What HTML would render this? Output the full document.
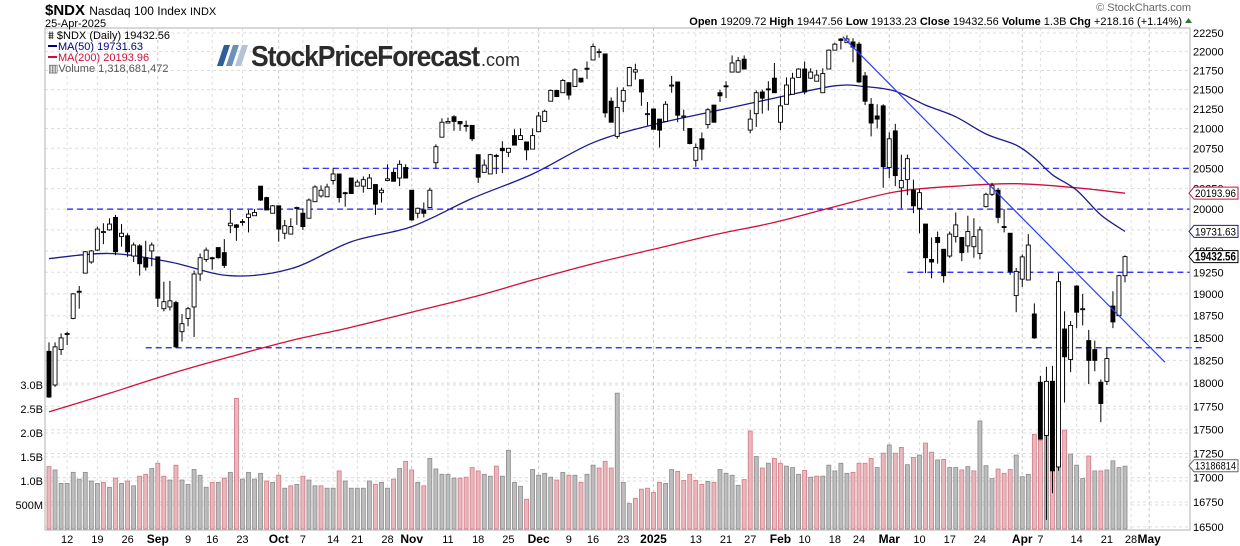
<!DOCTYPE html>
<html><head><meta charset="utf-8"><style>
html,body{margin:0;padding:0;background:#fff;}
svg{display:block;font-family:"Liberation Sans",sans-serif;}
</style></head><body>
<svg id="chart" width="1240" height="546" viewBox="0 0 1240 546" xmlns="http://www.w3.org/2000/svg">
<rect x="0" y="0" width="1240" height="546" fill="#fff"/>
<g id="grid"></g>
<g id="volg"></g>
<g id="hlines"></g>
<g id="mag"></g>
<g id="candles"></g>
<g id="trend"></g>
<rect x="45" y="28" width="1145" height="502" fill="none" stroke="#b0b0b0" stroke-width="1"/>
<g id="axes"></g>

<g>
<text x="45" y="15" font-size="15" font-weight="bold" fill="#000">$NDX <tspan font-size="12" font-weight="normal">Nasdaq 100 Index </tspan><tspan font-size="11" font-weight="normal">INDX</tspan></text>
<text x="45" y="27" font-size="11" fill="#000">25-Apr-2025</text>
<text x="1191" y="11" font-size="11" fill="#666" text-anchor="end">© StockCharts.com</text>
<text x="1182" y="25" font-size="11" fill="#000" text-anchor="end"><tspan font-weight="bold">Open</tspan> 19209.72  <tspan font-weight="bold">High</tspan> 19447.56  <tspan font-weight="bold">Low</tspan> 19133.23  <tspan font-weight="bold">Close</tspan> 19432.56  <tspan font-weight="bold">Volume</tspan> 1.3B  <tspan font-weight="bold">Chg</tspan> +218.16 (+1.14%)</text>
<polygon points="1185,23 1192,23 1188.5,18" fill="#2a7a2a"/>
</g>

<g font-size="11">
<text x="48" y="39" fill="#000">⩩ $NDX (Daily) 19432.56</text>
<line x1="48" y1="46" x2="57" y2="46" stroke="#000080" stroke-width="2"/>
<text x="58" y="50" fill="#000080">MA(50) 19731.63</text>
<line x1="48" y1="57" x2="57" y2="57" stroke="#d0103a" stroke-width="2"/>
<text x="58" y="61" fill="#d0103a">MA(200) 20193.96</text>
<text x="48" y="72" fill="#555">▥Volume 1,318,681,472</text>
</g>

<g>
<polygon points="224,45 230,45 223,66 217,66" fill="#2f5d9b"/>
<polygon points="233,45 239,45 232,66 226,66" fill="#6d8fb8"/>
<polygon points="242,45 248,45 241,66 235,66" fill="#b3c3d6"/>
<text x="251" y="66" font-size="29" font-weight="bold" fill="#2b2b2b" letter-spacing="-1.2" textLength="228" lengthAdjust="spacingAndGlyphs">StockPriceForecast</text>
<text x="481" y="66" font-size="18" fill="#2b2b2b">.com</text>
</g>
</svg>
<script>
var opens=[18350,17980,18370,18540,18720,19030,19240,19370,19510,19720,
19750,19900,19670,19680,19440,19560,19420,19500,19430,18830,
18850,18900,18570,18720,18850,19230,19400,19420,19540,19480,
19800,19810,19840,19900,19920,20280,20140,19950,20040,19710,
19700,20010,19950,19890,20090,20160,20150,20350,20430,20200,
20380,20280,20280,20250,20300,20200,20350,20450,20380,20510,
20230,19950,19990,20020,20570,20890,21070,21150,21090,21040,
21040,20670,20450,20430,20660,20750,20700,20910,20860,20830,
20740,20960,21090,21350,21490,21460,21590,21540,21650,21780,
21890,21990,21970,21350,20900,21350,21550,21730,21630,21190,
21250,21120,21090,21550,21600,21150,21000,20600,20870,21050,
21300,21460,21550,21730,21730,21900,20980,21190,21470,21510,
21650,21080,21310,21440,21660,21770,21650,21610,21460,21770,
22020,22170,22120,22130,22100,21680,21310,21160,21290,20510,
20970,20260,20360,20230,20010,19820,19400,19660,19520,19440,
19670,19660,19560,19550,19470,20030,20180,20230,19790,19710,
18980,19170,19160,18770,18010,17440,18020,17110,18600,18260,
19090,18830,18470,18370,18010,18020,18860,18750,19209.72];
var highs=[18450,18450,18550,18570,19010,19090,19500,19510,19790,19830,
19890,19930,19820,19710,19600,19580,19620,19600,19430,19140,
19150,18920,18770,18850,19270,19470,19540,19430,19540,19640,
19990,19820,19880,19990,20000,20280,20150,20050,20040,19870,
19890,20030,20010,20130,20290,20290,20310,20500,20430,20210,
20380,20360,20400,20430,20300,20260,20550,20490,20600,20550,
20230,20020,20080,20260,20800,21130,21140,21170,21090,21100,
21040,20670,20610,20680,20680,20840,20750,20990,21000,20830,
21000,21210,21240,21500,21490,21640,21600,21780,21650,21870,
22110,22040,21970,21400,21530,21530,21800,21840,21630,21340,
21250,21120,21350,21680,21600,21240,21000,20810,20950,21260,
21300,21500,21610,21950,21930,21950,21240,21490,21500,21610,
21850,21410,21660,21720,21780,21870,21780,21760,21780,22030,
22120,22180,22220,22180,22130,21730,21390,21310,21310,20950,
21060,20670,20670,20360,20240,19820,19660,19730,19520,19730,
19960,19660,19920,19890,19790,20200,20320,20260,20000,19710,
19300,19460,19700,18890,18080,18180,18190,19240,18800,18690,
19100,19000,18590,18470,18040,18390,19030,19220,19447.56];
var lows=[17840,17960,18310,18420,18710,18830,19240,19350,19500,19580,
19740,19450,19550,19430,19370,19210,19270,19320,18850,18800,
18810,18390,18460,18630,18510,19150,19370,19280,19410,19300,
19710,19620,19800,19720,19920,20100,19990,19950,19610,19640,
19700,19810,19750,19890,20090,20140,20150,20300,20080,20030,
20190,20280,20200,20250,19930,20080,20340,20340,20280,20380,
19860,19890,19900,20020,20500,20890,21070,20970,20970,20960,
20840,20320,20450,20430,20430,20440,20640,20790,20860,20600,
20740,20960,21090,21350,21410,21460,21370,21540,21590,21640,
21890,21920,21140,21080,20870,21210,21550,21630,21290,21040,
20990,20760,21090,21460,21080,20970,20800,20520,20600,21000,
21080,21340,21390,21730,21720,21770,20940,21020,21190,21230,
21460,20980,21310,21440,21660,21440,21640,21610,21460,21770,
22020,22030,22120,21860,21590,21300,20900,21000,20260,20380,
20280,20010,20170,19950,19710,19240,19180,19350,19130,19420,
19600,19380,19480,19420,19400,20020,20160,19830,19720,19220,
18790,19080,19160,18490,17400,16570,16840,17070,17790,18120,
18610,18640,17990,18130,17580,17980,18610,18750,19133.23];
var closes=[17850,18400,18500,18550,19000,19020,19490,19500,19760,19730,
19820,19490,19710,19490,19570,19350,19310,19570,18950,18910,
18920,18400,18660,18830,19230,19420,19510,19410,19420,19330,
19830,19780,19850,19940,19960,20110,19990,20040,19760,19800,
19790,20020,19790,20110,20270,20230,20270,20430,20140,20190,
20190,20330,20360,20380,20060,20230,20370,20340,20550,20380,
19870,20010,19950,20230,20770,21080,21090,21090,21060,21030,
20870,20390,20540,20670,20660,20720,20750,20790,20910,20730,
20910,21160,21220,21490,21410,21620,21430,21760,21600,21770,
22070,22000,21200,21080,21270,21490,21790,21760,21470,21190,
20990,20980,21310,21560,21170,21160,20810,20760,20740,21240,
21080,21420,21540,21850,21880,21770,21120,21460,21390,21500,
21460,21290,21560,21650,21770,21470,21730,21690,21710,22020,
22100,22150,22170,22060,21600,21350,21070,21120,20520,20870,
20410,20350,20620,20040,20200,19420,19370,19600,19210,19700,
19810,19480,19730,19670,19750,20180,20290,19900,19780,19260,
19260,19430,19570,18500,17400,18020,17070,19140,18290,18640,
18790,18830,18250,18250,17780,18270,18680,19210,19432.56];
var volumesB=[1.30,1.23,0.95,0.95,1.18,1.04,1.18,1.00,0.95,0.97,
0.87,1.06,0.95,1.00,0.90,1.10,1.14,1.26,1.37,1.10,
1.02,1.33,1.02,0.93,1.24,1.12,0.87,0.97,0.97,1.06,
1.18,2.72,1.04,1.18,1.04,1.16,1.00,0.97,1.12,0.85,
0.90,0.93,1.10,1.02,0.90,0.90,0.85,0.85,1.21,1.00,
0.85,0.85,0.85,1.00,0.93,0.97,0.85,1.04,1.26,1.41,
1.23,0.97,0.90,1.47,1.25,1.14,1.14,1.06,1.06,
1.08,1.28,1.21,1.14,1.10,1.31,1.10,1.64,0.97,0.89,
0.62,1.24,1.12,1.16,1.08,1.02,1.18,1.12,1.12,0.97,
1.14,1.33,1.27,1.41,1.27,2.83,0.97,0.53,0.64,0.83,
0.85,0.76,0.97,0.95,1.24,1.20,1.01,1.14,1.01,0.93,
0.99,0.97,1.24,1.16,1.12,0.91,1.03,2.04,1.51,1.27,
1.37,1.47,1.37,1.31,1.28,1.14,1.22,1.08,1.10,1.10,
1.33,1.21,1.37,1.16,1.18,1.37,1.37,1.47,1.28,
1.58,1.75,1.58,1.70,1.34,1.49,1.54,1.79,1.60,1.44,
1.45,1.28,1.28,1.23,1.30,1.21,2.25,1.32,1.05,1.25,
1.16,1.24,1.54,1.09,1.14,1.97,1.85,2.63,2.30,2.98,
2.06,1.56,1.33,1.05,1.52,1.21,1.21,1.23,1.42,1.28,1.31];
var ma50Idx=[0,10,20,30,40,50,60,70,80,90,100,110,120,130,135,140,145,150,155,160,163,166,170,174,178];
var ma50=[19410,19470,19370,19210,19290,19610,19790,20130,20430,20820,21050,21220,21390,21550,21540,21480,21300,21150,20930,20790,20630,20420,20230,19930,19731.63];
var ma200Idx=[0,10,20,30,40,50,60,70,80,90,100,110,120,130,140,150,160,170,178];
var ma200=[17690,17890,18100,18290,18470,18620,18790,18960,19160,19350,19520,19690,19840,20030,20210,20280,20310,20260,20193.96];
var priceTicks=[22250,22000,21750,21500,21250,21000,20750,20500,20250,20000,19750,19500,19250,19000,18750,18500,18250,18000,17750,17500,17250,17000,16750,16500];
var volTicks=[0.5,1.0,1.5,2.0,2.5,3.0];
var volTickLabels=["500M","1.0B","1.5B","2.0B","2.5B","3.0B"];
var dateIdx=[3,8,13,18,23,27,32,38,42,47,51,56,60,66,71,76,81,86,90,95,100,107,112,116,121,125,130,134,139,144,149,154,161,164,170,175,179,182];
var dateLabels=["12","19","26","Sep","9","16","23","Oct","7","14","21","28","Nov","11","18","25","Dec","9","16","23","2025","13","21","27","Feb","10","18","24","Mar","10","17","24","Apr","7","14","21","28","May"];
var hLevels=[20500,20000,19250,18390];
var hStartIdx=[42,3,142,16];
var trendIdx=[131.3,184.6];
var trendPrice=[22200,18230];

var NS="http://www.w3.org/2000/svg";
function X(i){return 49+i*6.045;}
function Y(p){return 33+1652*Math.log(22250/p);}
function VY(v){return 529-v*48;}
function mk(tag,attrs,parent){var e=document.createElementNS(NS,tag);for(var k in attrs)e.setAttribute(k,attrs[k]);parent.appendChild(e);return e;}
var grid=document.getElementById('grid'),axes=document.getElementById('axes');
var L=45,R=1190,T=28,B=530;
priceTicks.forEach(function(p){
  var y=Y(p);
  var gl=mk('line',{x1:L,x2:R,y1:y,y2:y,stroke:'#ddd','stroke-dasharray':'3,3','stroke-width':1},grid);
  
  
  var t=mk('text',{x:1193,y:y+4,'font-size':11,fill:'#000'},axes);
  t.textContent=p;
  
  
});
volTicks.forEach(function(v,k){
  var y=VY(v);
  var gl=mk('line',{x1:L,x2:R,y1:y,y2:y,stroke:'#ddd','stroke-dasharray':'3,3','stroke-width':1},grid);
  
  
  var t=mk('text',{x:43,y:y+4,'font-size':11,fill:'#000','text-anchor':'end'},axes);
  t.textContent=volTickLabels[k];
  
  
});
dateIdx.forEach(function(i,k){
  var x=X(i);var lab=dateLabels[k];var isM=/[A-Za-z]/.test(lab)||lab=="2025";
  if(x<R){
    var gl=mk('line',{x1:x,x2:x,y1:T,y2:B,stroke:isM?'#c8c8c8':'#e0e0e0','stroke-dasharray':'3,3','stroke-width':1},grid);
    
    
  }
  var t=mk('text',{x:x,y:543,'font-size':isM?12:11,'font-weight':isM?'bold':'normal',fill:'#000','text-anchor':'middle'},axes);
  t.textContent=lab;
  
  
});
var volg=document.getElementById('volg');
volumesB.forEach(function(v,i){
  var down=i>0&&closes[i]<closes[i-1];if(i==0)down=closes[0]<opens[0];
  var y=VY(v);
  var r=mk('rect',{x:X(i)-2,y:y,width:4,height:529-y,fill:down?'#e8b8bd':'#bdbdbd',stroke:down?'#d27a86':'#8c8c8c','stroke-width':0.8},volg);
  
  
});
var hl=document.getElementById('hlines');
hLevels.forEach(function(p,k){
  var y=Y(p);
  var l=mk('line',{x1:X(hStartIdx[k]),x2:k==3?1205:R,y1:y,y2:y,stroke:'#1a1aff','stroke-dasharray':'6,4','stroke-width':1.2},hl);
  
  
});
function maPath(idx,vals,color,name){
  var pts=vals.map(function(v,k){return [X(idx[k]),Y(v)];});
  var d='M'+pts[0][0].toFixed(1)+','+pts[0][1].toFixed(1);
  for(var k=0;k<pts.length-1;k++){
    var p0=pts[Math.max(k-1,0)],p1=pts[k],p2=pts[k+1],p3=pts[Math.min(k+2,pts.length-1)];
    var c1x=p1[0]+(p2[0]-p0[0])/6,c1y=p1[1]+(p2[1]-p0[1])/6,c2x=p2[0]-(p3[0]-p1[0])/6,c2y=p2[1]-(p3[1]-p1[1])/6;
    d+='C'+c1x.toFixed(1)+','+c1y.toFixed(1)+' '+c2x.toFixed(1)+','+c2y.toFixed(1)+' '+p2[0].toFixed(1)+','+p2[1].toFixed(1);
  }
  var p=mk('path',{d:d,fill:'none',stroke:color,'stroke-width':1.3,'stroke-linejoin':'round'},document.getElementById('mag'));
  
  
}
maPath(ma200Idx,ma200,'#d0103a','ma200-line');
maPath(ma50Idx,ma50,'#1c1c8c','ma50-line');
var cg=document.getElementById('candles');
closes.forEach(function(c,i){
  var o=opens[i],x=X(i);
  var w=mk('line',{x1:x,x2:x,y1:Y(highs[i]),y2:Y(lows[i]),stroke:'#000','stroke-width':1},cg);
  
  
  var top=Y(Math.max(o,c)),bot=Y(Math.min(o,c));var h=Math.max(bot-top,1);
  var b=mk('rect',{x:x-2,y:top,width:4,height:h,fill:c>=o?'#fff':'#000',stroke:'#000','stroke-width':0.9},cg);
  
  
});
var tl=mk('line',{x1:X(trendIdx[0]),y1:Y(trendPrice[0]),x2:X(trendIdx[1]),y2:Y(trendPrice[1]),stroke:'#2a3cff','stroke-width':1.2},document.getElementById('trend'));


function badge(y,txt,color,bold,name){
  var g=mk('g',{},axes);
  
  
  mk('polygon',{points:'1189,'+y+' 1194,'+(y-6)+' 1238,'+(y-6)+' 1238,'+(y+6)+' 1194,'+(y+6),fill:'#fff',stroke:color,'stroke-width':1},g);
  var t=mk('text',{x:1195,y:y+4,'font-size':bold?12:11,'font-weight':bold?'bold':'normal',fill:'#000',textLength:41,lengthAdjust:'spacingAndGlyphs'},g);
  t.textContent=txt;
}
badge(Y(20193.96),'20193.96','#d0103a',false,'ma200-value-badge');
badge(Y(19731.63),'19731.63','#1c1c8c',false,'ma50-value-badge');
badge(Y(19432.56),'19432.56','#000',true,'last-price-badge');
badge(VY(1.3186814),'13186814','#666',false,'volume-value-badge');
</script>
</body></html>
